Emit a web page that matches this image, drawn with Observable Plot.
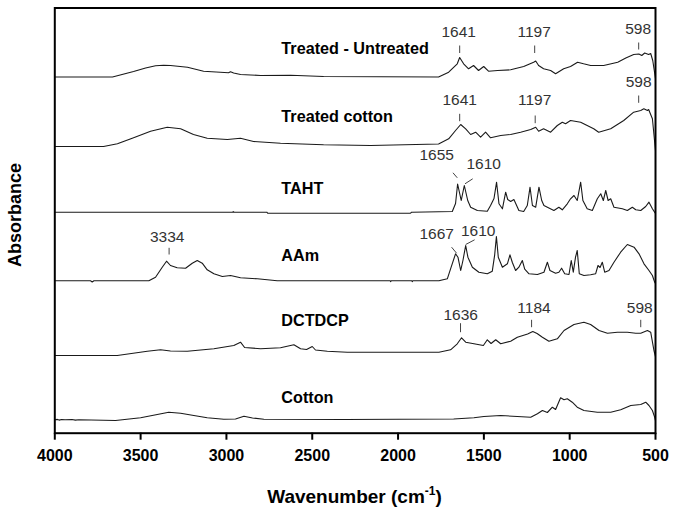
<!DOCTYPE html>
<html>
<head>
<meta charset="utf-8">
<script src="https://cdn.jsdelivr.net/npm/d3@7"></script>
<script src="https://cdn.jsdelivr.net/npm/@observablehq/plot@0.6"></script>
<style>
  html, body { margin: 0; padding: 0; background: #fff; }
  svg { display: block; }
</style>
</head>
<body>
<script>
// ---- Data (wavenumber cm-1, absorbance above each curve's own baseline, a.u.) ----
const seriesNames = ["Treated - Untreated", "Treated cotton", "TAHT", "AAm", "DCTDCP", "Cotton"];
const seriesOffsets = [3.562, 2.877, 2.21, 1.524, 0.777, 0.134];

const treatedMinusUntreated = [[4000,0],[3664,0],[3541,0.055],[3471,0.09],[3413,0.113],[3366,0.117],[3326,0.115],[3227,0.098],[3133,0.058],[2988,0.042],[2976,0.053],[2958,0.04],[2918,0.025],[2801,0.015],[2626,0.018],[2434,0.005],[1764,0],[1705,0.048],[1655,0.132],[1641,0.195],[1618,0.132],[1589,0.082],[1560,0.115],[1531,0.065],[1501,0.105],[1473,0.058],[1420,0.065],[1344,0.072],[1268,0.105],[1210,0.148],[1198,0.16],[1181,0.115],[1152,0.082],[1111,0.065],[1082,0.032],[1035,0.082],[995,0.105],[954,0.148],[919,0.132],[878,0.115],[802,0.115],[720,0.148],[673,0.19],[627,0.225],[597,0.23],[580,0.215],[563,0.24],[540,0.225],[528,0.235],[516,0.165],[500,-0.015]];

const treatedCotton = [[4000,-0.01],[3716,-0.01],[3635,0.017],[3541,0.077],[3442,0.143],[3345,0.183],[3267,0.167],[3192,0.11],[3112,0.073],[2995,0.06],[2918,0.073],[2842,0.04],[2685,0.023],[2434,0.007],[2160,0],[1764,0.015],[1705,0.067],[1665,0.15],[1635,0.21],[1606,0.167],[1577,0.11],[1548,0.133],[1519,0.083],[1490,0.133],[1461,0.077],[1402,0.1],[1344,0.11],[1286,0.133],[1227,0.16],[1198,0.183],[1181,0.143],[1152,0.167],[1111,0.133],[1072,0.2],[1043,0.233],[1024,0.217],[995,0.25],[936,0.233],[860,0.167],[831,0.133],[761,0.167],[685,0.25],[627,0.333],[586,0.35],[568,0.367],[547,0.35],[540,0.36],[518,0.267],[500,-0.05]];

const taht = [[4000,0],[2965,0],[2960,0.006],[2955,0],[2765,0],[2760,-0.01],[1927,-0.01],[1921,0],[1684,0.007],[1665,0.087],[1653,0.282],[1632,0.117],[1614,0.267],[1594,0.117],[1577,0.05],[1538,0.017],[1480,0.01],[1461,0.067],[1441,0.137],[1426,0.3],[1412,0.084],[1392,0.034],[1373,0.2],[1361,0.127],[1344,0.107],[1325,0.127],[1296,0.017],[1268,0.007],[1247,0.067],[1231,0.25],[1217,0.067],[1198,0.05],[1179,0.25],[1163,0.117],[1150,0.067],[1130,0.05],[1092,0.017],[1063,0.05],[1043,0.024],[1014,0.084],[995,0.134],[975,0.167],[956,0.117],[936,0.3],[923,0.117],[898,0.034],[868,0.017],[839,0.134],[819,0.184],[804,0.117],[790,0.217],[776,0.117],[761,0.134],[742,0.05],[693,0.034],[664,0.017],[635,0.05],[615,0.024],[586,0.017],[557,0.057],[538,0.1],[518,0.034],[505,0],[500,-0.013]];

const aam = [[4000,0],[3792,0],[3782,-0.012],[3772,0],[3452,0],[3413,0.036],[3374,0.136],[3349,0.196],[3326,0.153],[3287,0.13],[3238,0.126],[3199,0.176],[3170,0.203],[3141,0.176],[3112,0.11],[3073,0.07],[3024,0.043],[2976,0.053],[2918,0.03],[2820,0.02],[2704,0],[2046,0],[2043,-0.008],[2040,0],[1920,0],[1917,-0.008],[1914,0],[1762,0],[1713,0.02],[1694,0.12],[1665,0.27],[1651,0.236],[1635,0.103],[1622,0.203],[1606,0.353],[1593,0.236],[1567,0.136],[1529,0.086],[1480,0.07],[1451,0.096],[1437,0.26],[1427,0.443],[1416,0.236],[1392,0.136],[1363,0.17],[1348,0.26],[1334,0.183],[1315,0.103],[1296,0.136],[1276,0.203],[1262,0.116],[1237,0.07],[1188,0.063],[1150,0.086],[1130,0.186],[1115,0.103],[1082,0.076],[1063,0.086],[1047,0.126],[1029,0.07],[1004,0.063],[991,0.203],[979,0.086],[966,0.236],[956,0.303],[944,0.07],[917,0.053],[878,0.06],[849,0.07],[835,0.153],[823,0.133],[810,0.186],[796,0.086],[771,0.103],[742,0.186],[703,0.286],[664,0.363],[625,0.336],[596,0.27],[567,0.17],[538,0.103],[518,0.053],[505,-0.014],[500,-0.027]];

const dctdcp = [[4000,0],[3636,0],[3461,0.043],[3384,0.057],[3326,0.045],[3228,0.043],[3073,0.067],[2957,0.1],[2918,0.133],[2894,0.08],[2801,0.067],[2685,0.077],[2607,0.107],[2568,0.067],[2533,0.06],[2500,0.09],[2481,0.055],[2412,0.043],[2296,0.033],[1762,0.033],[1694,0.057],[1655,0.117],[1630,0.177],[1606,0.133],[1558,0.117],[1503,0.1],[1480,0.157],[1458,0.12],[1431,0.157],[1402,0.117],[1344,0.143],[1305,0.183],[1245,0.215],[1215,0.24],[1190,0.22],[1159,0.183],[1121,0.143],[1072,0.167],[1033,0.25],[975,0.31],[917,0.333],[878,0.31],[829,0.25],[780,0.223],[722,0.233],[664,0.233],[615,0.223],[586,0.223],[547,0.25],[528,0.233],[509,0.05],[500,-0.01]];

const cotton = [[4000,0],[3985,0.004],[3975,-0.003],[3960,0.003],[3940,0],[3900,0.003],[3880,-0.003],[3860,0],[3646,-0.007],[3500,0.02],[3403,0.053],[3336,0.076],[3267,0.066],[3190,0.043],[3112,0.02],[3015,0.006],[2947,0.008],[2898,0.036],[2848,0.018],[2782,0.006],[2306,0.003],[1676,0.008],[1558,0.02],[1500,0.033],[1402,0.043],[1305,0.033],[1227,0.026],[1188,0.06],[1159,0.093],[1130,0.073],[1101,0.126],[1082,0.103],[1053,0.22],[1033,0.2],[1014,0.21],[985,0.176],[956,0.126],[917,0.093],[839,0.076],[761,0.076],[703,0.1],[644,0.143],[586,0.153],[557,0.176],[538,0.143],[518,0.093],[505,0.026],[500,-0.007]];

const seriesData = [treatedMinusUntreated, treatedCotton, taht, aam, dctdcp, cotton];

// curve labels
const curveLabelWn = [2680, 2680, 2680, 2680, 2680, 2680];
const curveLabelAbs = [3.847, 3.16, 2.447, 1.777, 1.127, 0.357];

// peak annotations
const peakText  = ["1641","1197","598","1641","1197","598","1655","1610","3334","1667","1610","1636","1184","598"];
const peakTextWn  = [1647,1207,601,1641,1204,598,1775,1501,3345,1775,1533,1635,1208,592];
const peakTextAbs = [4.007,4.007,4.037,3.327,3.327,3.51,2.777,2.687,1.96,1.994,2.017,1.177,1.254,1.254];
const peakTickWn1  = [1641,1204,598,1641,1201,598,1680,1610,3334,1688,1606,1636,1222,586];
const peakTickAbs1 = [3.877,3.877,3.907,3.194,3.177,3.377,2.604,2.494,1.854,1.86,1.887,1.10,1.134,1.134];
const peakTickWn2  = [1641,1204,598,1641,1201,598,1655,1565,3334,1659,1554,1636,1222,586];
const peakTickAbs2 = [3.802,3.802,3.837,3.12,3.10,3.304,2.554,2.544,1.787,1.80,1.934,1.01,1.06,1.06];

const xTicks = [4000, 3500, 3000, 2500, 2000, 1500, 1000, 500];

// ---- Build tables ----
const rows = seriesData.flatMap((s, i) => s.map(([wn, a]) => ({name: seriesNames[i], wn, a: a + seriesOffsets[i]})));
const curveLabels = seriesNames.map((n, i) => ({text: n, wn: curveLabelWn[i], a: curveLabelAbs[i]}));
const peakLabels = peakText.map((t, i) => ({text: t, wn: peakTextWn[i], a: peakTextAbs[i]}));
const peakTicks = peakText.map((t, i) => ({x1: peakTickWn1[i], y1: peakTickAbs1[i], x2: peakTickWn2[i], y2: peakTickAbs2[i]}));

const font = "'Liberation Sans', Arial, Helvetica, sans-serif";

const chart = Plot.plot({
  width: 689,
  height: 509,
  marginLeft: 54.3,
  marginRight: 34,
  marginTop: 7.5,
  marginBottom: 76.3,
  style: {fontFamily: font, background: "#fff", color: "#000"},
  x: {domain: [4000, 500]},
  y: {domain: [0, 4.252], axis: null},
  marks: [
    Plot.line(rows, {x: "wn", y: "a", z: "name", stroke: "#1a1a1a", strokeWidth: 1.1, curve: "linear"}),
    Plot.link(peakTicks, {x1: "x1", y1: "y1", x2: "x2", y2: "y2", stroke: "#444", strokeWidth: 1}),
    Plot.text(peakLabels, {x: "wn", y: "a", text: "text", fontSize: 15.5, fill: "#333", textAnchor: "middle", lineAnchor: "middle"}),
    Plot.text(curveLabels, {x: "wn", y: "a", text: "text", fontSize: 16.2, fontWeight: "bold", fill: "#000", textAnchor: "start", lineAnchor: "middle"}),
    Plot.frame({stroke: "#000", strokeWidth: 2}),
    Plot.axisX(xTicks, {tickSize: 7, tickPadding: 9, strokeWidth: 2, stroke: "#000", fontSize: 16, fontWeight: "bold", fill: "#000", tickFormat: d => String(d), label: null})
  ]
});

document.body.appendChild(chart);

const svg = d3.select(chart);
// y-axis title
svg.append("text")
  .attr("transform", "translate(15,215) rotate(-90)")
  .attr("text-anchor", "middle")
  .attr("dominant-baseline", "central")
  .style("font-family", font)
  .style("font-weight", "bold")
  .style("font-size", "18px")
  .attr("fill", "#000")
  .text("Absorbance");

// x-axis title with superscript
const xt = svg.append("text")
  .attr("x", 354.5)
  .attr("y", 503)
  .attr("text-anchor", "middle")
  .style("font-family", font)
  .style("font-weight", "bold")
  .style("font-size", "19px")
  .attr("fill", "#000");
xt.append("tspan").text("Wavenumber (cm");
xt.append("tspan").attr("dy", -8).style("font-size", "12px").text("-1");
xt.append("tspan").attr("dy", 8).text(")");
</script>
</body>
</html>
